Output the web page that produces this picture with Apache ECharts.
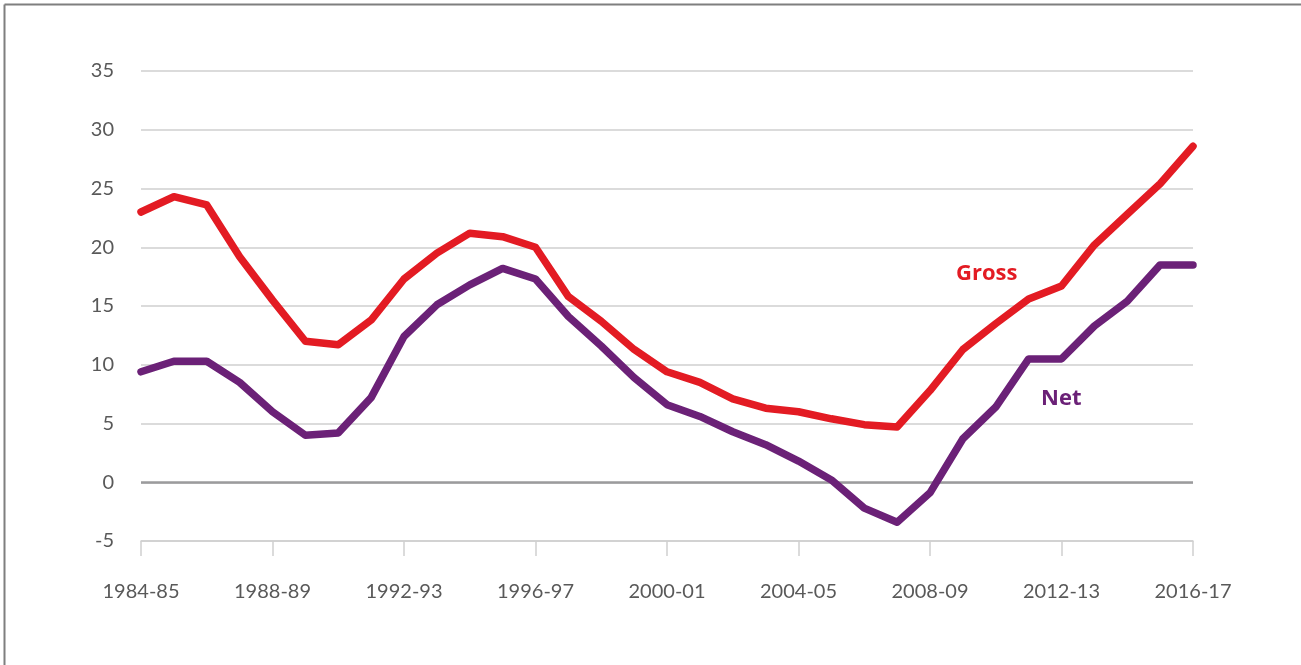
<!DOCTYPE html>
<html>
<head>
<meta charset="utf-8">
<script src="https://cdn.jsdelivr.net/npm/echarts@6/dist/echarts.min.js"></script>
<style>
html,body{margin:0;padding:0;background:#fff;}
#c{width:1301px;height:665px;}
</style>
</head>
<body>
<div id="c"></div>
<script>
const years = ['1984-85','1985-86','1986-87','1987-88','1988-89','1989-90','1990-91','1991-92','1992-93','1993-94','1994-95','1995-96','1996-97','1997-98','1998-99','1999-00','2000-01','2001-02','2002-03','2003-04','2004-05','2005-06','2006-07','2007-08','2008-09','2009-10','2010-11','2011-12','2012-13','2013-14','2014-15','2015-16','2016-17'];
const gross = [23.0,24.3,23.6,19.2,15.5,12.0,11.7,13.8,17.3,19.5,21.2,20.9,20.0,15.8,13.7,11.3,9.4,8.5,7.1,6.3,6.0,5.4,4.9,4.7,7.8,11.3,13.5,15.6,16.7,20.2,22.8,25.4,28.6];
const net = [9.4,10.3,10.3,8.5,6.0,4.0,4.2,7.2,12.4,15.1,16.8,18.2,17.3,14.1,11.6,8.9,6.6,5.6,4.3,3.2,1.8,0.2,-2.2,-3.4,-0.9,3.7,6.4,10.5,10.5,13.3,15.4,18.5,18.5];
const yTicks = [-5,0,5,10,15,20,25,30,35];

const chart = echarts.init(document.getElementById('c'), null, {renderer:'canvas'});
chart.setOption({
  animation:false,
  backgroundColor:'#fff',
  grid:{left:141,right:108,top:71,bottom:124,containLabel:false},
  xAxis:{
    type:'category',
    data:years,
    boundaryGap:false,
    axisLine:{show:true,onZero:false,lineStyle:{color:'#cfcfcf',width:1.5}},
    axisTick:{show:true,interval:3,length:15,lineStyle:{color:'#cfcfcf',width:1.5}},
    axisLabel:{interval:3,margin:41,color:'#595959',fontFamily:'Lato',fontSize:20},
    splitLine:{show:false}
  },
  yAxis:{
    type:'value',
    min:yTicks[0],max:yTicks[yTicks.length-1],interval:5,
    axisLine:{show:false},
    axisTick:{show:false},
    axisLabel:{margin:27,color:'#595959',fontFamily:'Lato',fontSize:20},
    splitLine:{show:true,lineStyle:{color:'#cfcfcf',width:1.5}}
  },
  series:[
    {name:'Gross',type:'line',data:gross,symbol:'none',
     lineStyle:{color:'#E31B23',width:7.5,cap:'round',join:'round'},
     z:3,
     markLine:{silent:true,symbol:'none',label:{show:false},
       lineStyle:{color:'#9b9b9d',width:2.5,type:'solid'},
       data:[{yAxis:0}],z:1}},
    {name:'Net',type:'line',data:net,symbol:'none',
     lineStyle:{color:'#6B2177',width:7.5,cap:'round',join:'round'},z:4}
  ],
  graphic:[
    {type:'line',shape:{x1:4.5,y1:4.5,x2:1301,y2:4.5},style:{stroke:'#7f7f7f',lineWidth:2}},
    {type:'line',shape:{x1:4.5,y1:4.5,x2:4.5,y2:665},style:{stroke:'#7f7f7f',lineWidth:2}},
    {type:'text',left:956,top:263,style:{text:'Gross',fill:'#E31B23',font:'bold 22px "Open Sans"'}},
    {type:'text',left:1041,top:388,style:{text:'Net',fill:'#6B2177',font:'bold 22px "Open Sans"'}}
  ]
});
</script>
</body>
</html>
